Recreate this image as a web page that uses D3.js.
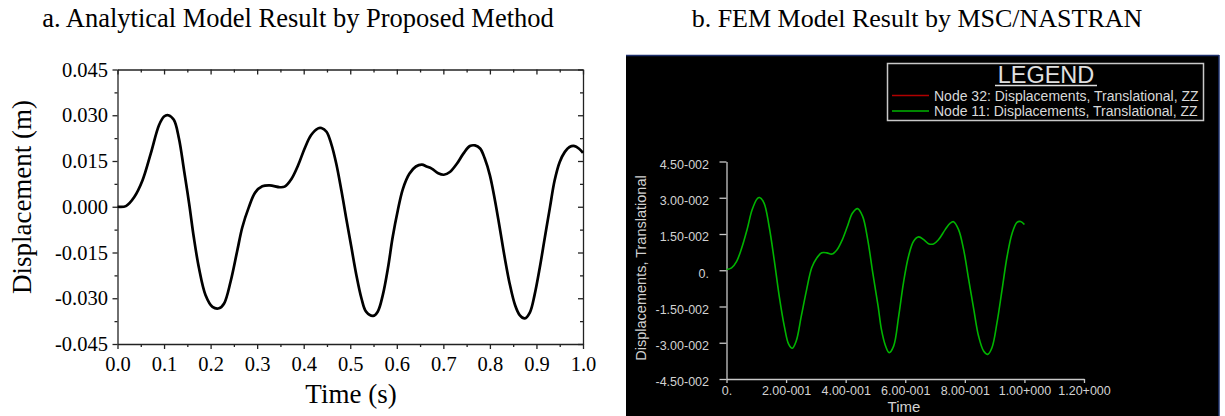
<!DOCTYPE html>
<html><head><meta charset="utf-8">
<script src="https://cdn.jsdelivr.net/npm/d3@7"></script>
<style>body{margin:0;background:#fff}svg{display:block}</style>
</head><body><svg id="c" width="1225" height="416"></svg>
<script>
// ---------- data ----------
const timeA = [0,0.018,0.0357,0.0536,0.0714,0.0893,0.1,0.109,0.121,0.132,0.143,0.154,0.164,0.175,0.189,0.204,0.218,0.229,0.243,0.257,0.268,0.282,0.296,0.311,0.327,0.349,0.359,0.374,0.388,0.402,0.416,0.431,0.438,0.449,0.459,0.47,0.481,0.491,0.502,0.513,0.524,0.534,0.549,0.559,0.57,0.581,0.591,0.602,0.613,0.627,0.641,0.654,0.664,0.675,0.689,0.701,0.714,0.729,0.743,0.757,0.768,0.779,0.789,0.8,0.811,0.821,0.832,0.843,0.854,0.864,0.875,0.886,0.896,0.907,0.918,0.929,0.939,0.95,0.961,0.971,0.982,0.991,1.0];
const dispA = [0,0.0002,0.0031,0.0086,0.0174,0.0268,0.0296,0.0300,0.0285,0.0224,0.0119,0.0009,-0.0101,-0.0201,-0.0289,-0.0328,-0.0333,-0.0317,-0.0245,-0.0146,-0.0068,-0.0002,0.0047,0.0067,0.0070,0.0064,0.0066,0.0092,0.0136,0.0191,0.0235,0.0257,0.0258,0.0246,0.0207,0.0141,0.0053,-0.0035,-0.0129,-0.0223,-0.0300,-0.0344,-0.0358,-0.0344,-0.0289,-0.0201,-0.0101,-0.0013,0.0058,0.0108,0.0132,0.0138,0.0132,0.0125,0.0110,0.0105,0.0114,0.0141,0.0174,0.0199,0.0201,0.0191,0.0158,0.0103,0.0020,-0.0068,-0.0168,-0.0256,-0.0322,-0.0355,-0.0366,-0.0346,-0.0289,-0.0201,-0.0101,-0.0002,0.0086,0.0147,0.0180,0.0196,0.0199,0.0191,0.0177];

const timeB = [0,0.017,0.034,0.051,0.069,0.086,0.103,0.111,0.126,0.143,0.16,0.177,0.194,0.209,0.221,0.234,0.251,0.269,0.286,0.303,0.32,0.337,0.354,0.371,0.389,0.406,0.423,0.44,0.457,0.474,0.491,0.509,0.52,0.533,0.546,0.561,0.578,0.594,0.611,0.628,0.645,0.662,0.678,0.695,0.712,0.734,0.751,0.762,0.779,0.796,0.813,0.83,0.846,0.863,0.877,0.891,0.908,0.925,0.942,0.959,0.975,0.987,1.0];
const dispB = [0.0003,0.001,0.0037,0.0092,0.0168,0.025,0.0296,0.0301,0.0278,0.0182,0.0044,-0.0107,-0.0231,-0.0307,-0.0323,-0.0293,-0.019,-0.008,0.001,0.0051,0.0072,0.0072,0.0067,0.0085,0.0127,0.0182,0.0237,0.0255,0.0223,0.0127,-0.0011,-0.0149,-0.0245,-0.0310,-0.0341,-0.0314,-0.0190,-0.0052,0.0058,0.012,0.0138,0.0127,0.011,0.0109,0.0127,0.0168,0.0195,0.0201,0.0168,0.0085,-0.0039,-0.0162,-0.0272,-0.0334,-0.0348,-0.0321,-0.0217,-0.008,0.0058,0.0154,0.0198,0.0202,0.0189];

const xTicksA = [0,0.1,0.2,0.3,0.4,0.5,0.6,0.7,0.8,0.9,1.0];
const xTickLabelsA = ["0.0","0.1","0.2","0.3","0.4","0.5","0.6","0.7","0.8","0.9","1.0"];
const yTicksA = [-0.045,-0.030,-0.015,0,0.015,0.030,0.045];
const yTickLabelsA = ["-0.045","-0.030","-0.015","0.000","0.015","0.030","0.045"];
const xMinorA = [0.05,0.15,0.25,0.35,0.45,0.55,0.65,0.75,0.85,0.95];
const yMinorA = [-0.0375,-0.0225,-0.0075,0.0075,0.0225,0.0375];

const xTicksB = [0,0.2,0.4,0.6,0.8,1.0,1.2];
const xTickLabelsB = ["0.","2.00-001","4.00-001","6.00-001","8.00-001","1.00+000","1.20+000"];
const yTicksB = [-0.045,-0.030,-0.015,0,0.015,0.030,0.045];
const yTickLabelsB = ["-4.50-002","-3.00-002","-1.50-002","0.","1.50-002","3.00-002","4.50-002"];

const titles = ["a. Analytical Model Result by Proposed Method","b. FEM Model Result by MSC/NASTRAN"];
const axisTitlesA = ["Time (s)","Displacement (m)"];
const axisTitlesB = ["Time","Displacements, Translational"];
const legendTitle = "LEGEND";
const legendLabels = ["Node 32: Displacements, Translational, ZZ","Node 11: Displacements, Translational, ZZ"];
const legendColors = ["#b00000","#00b400"];

// ---------- drawing ----------
const svg = d3.select("#c");
const serif = "'Liberation Serif','Times New Roman',serif";
const sans = "'Liberation Sans',Arial,sans-serif";

// titles
svg.append("text").attr("x",298).attr("y",27).attr("text-anchor","middle")
  .attr("font-family",serif).attr("font-size",26.5).attr("fill","#000").text(titles[0]);
svg.append("text").attr("x",917).attr("y",27).attr("text-anchor","middle")
  .attr("font-family",serif).attr("font-size",26).attr("fill","#000").text(titles[1]);

// ----- panel A -----
const xA = d3.scaleLinear().domain([0,1]).range([117.5,583]);
const yA = d3.scaleLinear().domain([-0.045,0.045]).range([344,69.5]);
const gA = svg.append("g");

function styleAxis(g, color, width){
  g.selectAll("path.domain").attr("stroke",color).attr("stroke-width",width);
  g.selectAll(".tick line").attr("stroke",color).attr("stroke-width",width);
}

const axB = gA.append("g").attr("transform",`translate(0,344)`)
  .call(d3.axisBottom(xA).tickValues(xTicksA).tickFormat((d,i)=>xTickLabelsA[i]).tickSizeInner(5).tickSizeOuter(0).tickPadding(7));
axB.selectAll("text").attr("font-family",serif).attr("font-size",20.5).attr("fill","#000");
styleAxis(axB,"#222",1.3);
const axBm = gA.append("g").attr("transform",`translate(0,344)`)
  .call(d3.axisBottom(xA).tickValues(xMinorA).tickFormat("").tickSizeInner(3).tickSizeOuter(0));
axBm.select("path.domain").remove(); styleAxis(axBm,"#222",1.3);

const axT = gA.append("g").attr("transform",`translate(0,69.5)`)
  .call(d3.axisTop(xA).tickValues(xTicksA).tickFormat("").tickSizeInner(-5).tickSizeOuter(0));
styleAxis(axT,"#222",1.3);
const axTm = gA.append("g").attr("transform",`translate(0,69.5)`)
  .call(d3.axisTop(xA).tickValues(xMinorA).tickFormat("").tickSizeInner(-3).tickSizeOuter(0));
axTm.select("path.domain").remove(); styleAxis(axTm,"#222",1.3);

const axL = gA.append("g").attr("transform",`translate(117.5,0)`)
  .call(d3.axisLeft(yA).tickValues(yTicksA).tickFormat((d,i)=>yTickLabelsA[i]).tickSizeInner(5).tickSizeOuter(0).tickPadding(4.5));
axL.selectAll("text").attr("font-family",serif).attr("font-size",20.5).attr("fill","#000");
styleAxis(axL,"#222",1.3);
const axLm = gA.append("g").attr("transform",`translate(117.5,0)`)
  .call(d3.axisLeft(yA).tickValues(yMinorA).tickFormat("").tickSizeInner(3).tickSizeOuter(0));
axLm.select("path.domain").remove(); styleAxis(axLm,"#222",1.3);

const axR = gA.append("g").attr("transform",`translate(583,0)`)
  .call(d3.axisRight(yA).tickValues(yTicksA).tickFormat("").tickSizeInner(-5).tickSizeOuter(0));
styleAxis(axR,"#222",1.3);
const axRm = gA.append("g").attr("transform",`translate(583,0)`)
  .call(d3.axisRight(yA).tickValues(yMinorA).tickFormat("").tickSizeInner(-3).tickSizeOuter(0));
axRm.select("path.domain").remove(); styleAxis(axRm,"#222",1.3);

const lineA = d3.line().x((d,i)=>xA(timeA[i])).y(d=>yA(d)).curve(d3.curveCatmullRom.alpha(0.5));
gA.append("path").datum(dispA).attr("d",lineA).attr("fill","none").attr("stroke","#000").attr("stroke-width",2.7).attr("stroke-linejoin","round");

gA.append("text").attr("x",351).attr("y",403).attr("text-anchor","middle")
  .attr("font-family",serif).attr("font-size",27).attr("fill","#000").text(axisTitlesA[0]);
gA.append("text").attr("transform","translate(31,197) rotate(-90)").attr("text-anchor","middle")
  .attr("font-family",serif).attr("font-size",27).attr("fill","#000").text(axisTitlesA[1]);

// ----- panel B -----
const gB = svg.append("g");
gB.append("rect").attr("x",626).attr("y",55).attr("width",593).attr("height",361).attr("fill","#000");
gB.append("line").attr("x1",626).attr("x2",1219).attr("y1",55.5).attr("y2",55.5).attr("stroke","#1d2f6b").attr("stroke-width",1.5);
gB.append("line").attr("x1",1219).attr("x2",1219).attr("y1",55).attr("y2",416).attr("stroke","#1d2f6b").attr("stroke-width",1.5);

const xB = d3.scaleLinear().domain([0,1.2]).range([726.5,1084]);
const yB = d3.scaleLinear().domain([-0.045,0.045]).range([379,161.5]);
const axColor = "#c8c8c8", lblColor = "#d2d2d2";

const bx = gB.append("g").attr("transform",`translate(0,379)`)
  .call(d3.axisBottom(xB).tickValues(xTicksB).tickFormat((d,i)=>xTickLabelsB[i]).tickSizeInner(4).tickSizeOuter(0).tickPadding(3));
bx.selectAll("text").attr("font-family",sans).attr("font-size",12.5).attr("fill",lblColor);
styleAxis(bx,axColor,1.3);

const by = gB.append("g").attr("transform",`translate(726.5,0)`)
  .call(d3.axisLeft(yB).tickValues(yTicksB).tickFormat((d,i)=>yTickLabelsB[i]).tickSizeInner(7).tickSizeOuter(0).tickPadding(10.5));
by.selectAll("text").attr("font-family",sans).attr("font-size",12.5).attr("fill",lblColor).attr("dy","0.55em");
styleAxis(by,axColor,1.3);

const lineB = d3.line().x((d,i)=>xB(timeB[i])).y(d=>yB(d)).curve(d3.curveCatmullRom.alpha(0.5));
gB.append("path").datum(dispB).attr("d",lineB).attr("fill","none").attr("stroke",legendColors[1]).attr("stroke-width",1.6);

gB.append("text").attr("x",904).attr("y",412).attr("text-anchor","middle")
  .attr("font-family",sans).attr("font-size",15).attr("fill",lblColor).text(axisTitlesB[0]);
gB.append("text").attr("transform","translate(646,268) rotate(-90)").attr("text-anchor","middle")
  .attr("font-family",sans).attr("font-size",14.5).attr("fill",lblColor).text(axisTitlesB[1]);

// legend
const lg = gB.append("g");
lg.append("rect").attr("x",887.5).attr("y",63.5).attr("width",316).attr("height",57)
  .attr("fill","none").attr("stroke","#c8c8c8").attr("stroke-width",1.5);
lg.append("text").attr("x",1046).attr("y",83).attr("text-anchor","middle")
  .attr("font-family",sans).attr("font-size",23.5).attr("fill","#e0e0e0").text(legendTitle);
lg.append("line").attr("x1",995).attr("x2",1097).attr("y1",85.5).attr("y2",85.5).attr("stroke","#e0e0e0").attr("stroke-width",1.5);
legendLabels.forEach((t,i)=>{
  const yy = 95.5 + i*15.5;
  lg.append("line").attr("x1",892).attr("x2",929).attr("y1",yy).attr("y2",yy).attr("stroke",legendColors[i]).attr("stroke-width",1.5);
  lg.append("text").attr("x",934).attr("y",yy+5).attr("font-family",sans).attr("font-size",14).attr("fill","#d8d8d8").text(t);
});
</script></body></html>
